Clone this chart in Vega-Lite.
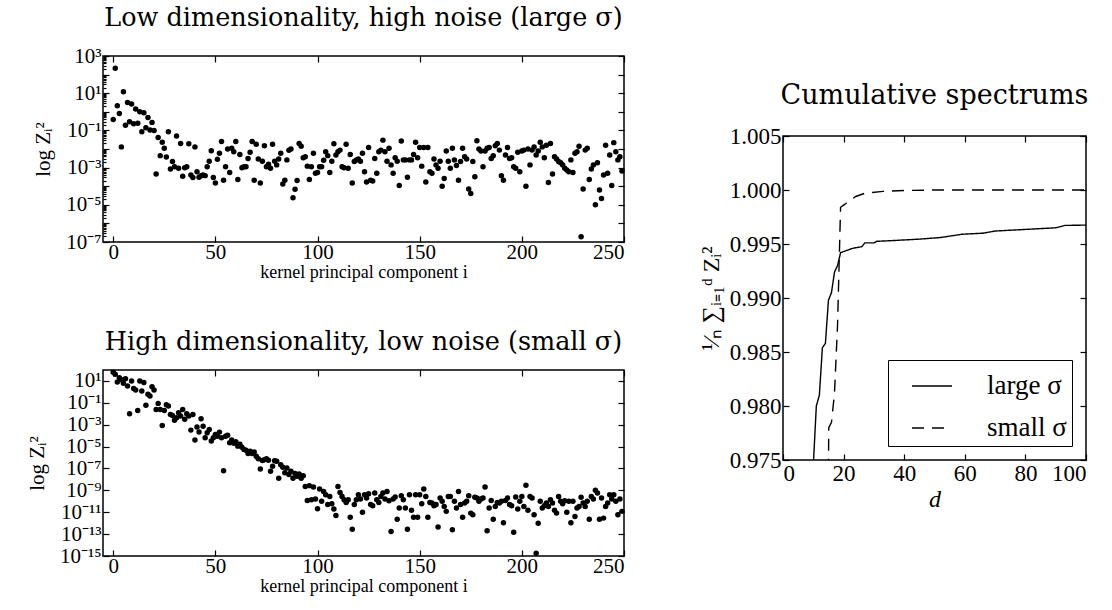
{
  "$schema": "https://vega.github.io/schema/vega-lite/v6.json",
  "background": "white",
  "padding": {"left": 25, "top": 4, "right": 5, "bottom": 5},
  "datasets": {
    "pts": [
{"i":0,"a":0.39,"b":63},{"i":1,"a":220,"b":40},{"i":2,"a":2.1,"b":7.9},{"i":3,"a":0.81,"b":20},{"i":4,"a":0.013,"b":12.6},
{"i":5,"a":12,"b":6.3},{"i":6,"a":0.19,"b":16},{"i":7,"a":3.2,"b":3.5},{"i":8,"a":0.29,"b":0.01},{"i":9,"a":2.6,"b":10},
{"i":10,"a":0.23,"b":2.0},{"i":11,"a":1.4,"b":1.5},{"i":12,"a":0.24,"b":0.02},{"i":13,"a":1.0,"b":10},{"i":14,"a":0.085,"b":1.2},
{"i":15,"a":0.89,"b":7.1},{"i":16,"a":0.14,"b":0.059},{"i":17,"a":0.5,"b":0.6},{"i":18,"a":0.105,"b":0.42},{"i":19,"a":0.27,"b":3.0},
{"i":20,"a":0.1,"b":1.5},{"i":21,"a":4.5e-4,"b":0.025},{"i":22,"a":0.041,"b":0.089},{"i":23,"a":4.4e-3,"b":0.025},{"i":24,"a":0.023,"b":8.5e-4},
{"i":25,"a":0.011,"b":0.02},{"i":26,"a":3.7e-3,"b":0.068},{"i":27,"a":0.085,"b":0.051},{"i":28,"a":8.3e-4,"b":8.7e-3},{"i":29,"a":2.1e-3,"b":7.1e-3},
{"i":30,"a":1.1e-3,"b":2.6e-3},{"i":31,"a":0.05,"b":4.4e-3},{"i":32,"a":9.1e-4,"b":0.0126},{"i":33,"a":0.02,"b":6.3e-3},{"i":34,"a":3.4e-4,"b":0.025},
{"i":35,"a":9.8e-4,"b":3.2e-3},{"i":36,"a":1.1e-3,"b":0.01},{"i":37,"a":0.019,"b":6.3e-3},{"i":38,"a":4e-4,"b":3.2e-4},{"i":39,"a":2.9e-4,"b":8.7e-3},
{"i":40,"a":0.013,"b":4e-5},{"i":41,"a":6e-4,"b":6.3e-4},{"i":42,"a":3e-4,"b":2.2e-4},{"i":43,"a":3.7e-4,"b":3.5e-3},{"i":44,"a":4e-4,"b":7.4e-4},
{"i":45,"a":3.7e-4,"b":6.3e-5},{"i":46,"a":1.1e-3,"b":1.8e-4},{"i":47,"a":2.2e-3,"b":3.7e-4},{"i":48,"a":8.1e-3,"b":3.2e-5},{"i":49,"a":2.9e-4,"b":6.3e-5},
{"i":50,"a":1.5e-4,"b":1.3e-4},{"i":51,"a":2.8e-3,"b":8.9e-5},{"i":52,"a":5.9e-3,"b":2.1e-4},{"i":53,"a":0.025,"b":6.3e-5},{"i":54,"a":2.1e-4,"b":6.3e-8},
{"i":55,"a":1.1e-3,"b":8.9e-5},{"i":56,"a":0.01,"b":1.1e-4},{"i":57,"a":5.5e-4,"b":2.2e-5},{"i":58,"a":0.011,"b":4e-5},{"i":59,"a":7.1e-3,"b":2e-5},
{"i":60,"a":0.025,"b":2.8e-5},{"i":61,"a":2.3e-4,"b":1.1e-5},{"i":62,"a":5.1e-3,"b":1.6e-5},{"i":63,"a":9.8e-4,"b":8.9e-6},{"i":64,"a":1.1e-3,"b":5.4e-6},
{"i":65,"a":1.1e-3,"b":4.7e-6},{"i":66,"a":3.1e-3,"b":2.3e-6},{"i":67,"a":6.6e-3,"b":3.8e-6},{"i":68,"a":0.025,"b":2.3e-6},{"i":69,"a":2.1e-4,"b":3.2e-6},
{"i":70,"a":0.018,"b":1.3e-6},{"i":71,"a":2.9e-3,"b":7.9e-7},{"i":72,"a":1.5e-4,"b":9.1e-8},{"i":73,"a":2.2e-3,"b":5.4e-7},{"i":74,"a":0.015,"b":6.3e-7},
{"i":75,"a":1.1e-3,"b":7.9e-7},{"i":76,"a":1.5e-3,"b":5.6e-7},{"i":77,"a":9.1e-4,"b":5.6e-8},{"i":78,"a":0.018,"b":1.6e-7},{"i":79,"a":2.2e-3,"b":5e-7},
{"i":80,"a":1.4e-3,"b":4.6e-7},{"i":81,"a":2.9e-3,"b":1.3e-8},{"i":82,"a":5.9e-3,"b":2.2e-7},{"i":83,"a":1.3e-4,"b":1.3e-7},{"i":84,"a":2.1e-4,"b":4e-8},
{"i":85,"a":2.6e-3,"b":1.1e-7},{"i":86,"a":8.5e-3,"b":2.8e-8},{"i":87,"a":0.01,"b":5.6e-8},{"i":88,"a":2.4e-5,"b":1.3e-8},{"i":89,"a":6.8e-5,"b":3.4e-8},
{"i":90,"a":2e-4,"b":1.9e-8},{"i":91,"a":0.02,"b":3.2e-8},{"i":92,"a":0.014,"b":1.3e-8},{"i":93,"a":3.4e-3,"b":2.2e-8},{"i":94,"a":3.8e-3,"b":2.3e-9},
{"i":95,"a":1.2e-3,"b":1.2e-10},{"i":96,"a":2.3e-4,"b":2.7e-9},{"i":97,"a":1.1e-3,"b":1.4e-10},{"i":98,"a":5.9e-3,"b":2e-9},{"i":99,"a":4.9e-4,"b":1.6e-10},
{"i":100,"a":5.4e-4,"b":2.1e-11},{"i":101,"a":1.1e-3,"b":1.3e-9},{"i":102,"a":1.1e-3,"b":1e-10},{"i":103,"a":2.5e-3,"b":7.9e-10},{"i":104,"a":7.1e-3,"b":4e-10},
{"i":105,"a":4.4e-3,"b":5e-11},{"i":106,"a":5.4e-4,"b":2.8e-10},{"i":107,"a":2.2e-3,"b":6e-11},{"i":108,"a":0.019,"b":2e-11},{"i":109,"a":4.7e-3,"b":5e-12},
{"i":110,"a":7.1e-3,"b":2.3e-9},{"i":111,"a":8.7e-3,"b":6.3e-10},{"i":112,"a":1.1e-3,"b":2.8e-10},{"i":113,"a":9.8e-4,"b":1.4e-10},{"i":114,"a":0.018,"b":7.9e-11},
{"i":115,"a":9.1e-4,"b":1.4e-10},{"i":116,"a":5.1e-3,"b":3.5e-12},{"i":117,"a":1.5e-4,"b":2.8e-13},{"i":118,"a":2.1e-3,"b":5e-11},{"i":119,"a":2.6e-3,"b":1.4e-10},
{"i":120,"a":2.9e-3,"b":4e-10},{"i":121,"a":2.2e-3,"b":1.6e-10},{"i":122,"a":5.9e-3,"b":1e-11},{"i":123,"a":6e-4,"b":4e-10},{"i":124,"a":1.7e-4,"b":2e-10},
{"i":125,"a":0.012,"b":5e-10},{"i":126,"a":2.1e-4,"b":5e-11},{"i":127,"a":1.9e-4,"b":4e-11},{"i":128,"a":3.1e-3,"b":5.6e-10},{"i":129,"a":4.9e-4,"b":1.4e-10},
{"i":130,"a":7.1e-3,"b":7.9e-11},{"i":131,"a":8.7e-3,"b":2.8e-10},{"i":132,"a":0.03,"b":5.6e-10},{"i":133,"a":7.1e-3,"b":1.6e-10},{"i":134,"a":2.2e-3,"b":7.9e-10},
{"i":135,"a":0.011,"b":1.1e-10},{"i":136,"a":1.4e-3,"b":1.7e-13},{"i":137,"a":4.9e-4,"b":1.6e-10},{"i":138,"a":3.4e-3,"b":2.5e-10},{"i":139,"a":2.2e-3,"b":2.3e-12},
{"i":140,"a":1.1e-4,"b":2.4e-11},{"i":141,"a":0.027,"b":3.2e-10},{"i":142,"a":2.6e-3,"b":1.4e-10},{"i":143,"a":2.6e-3,"b":2.4e-11},{"i":144,"a":3e-4,"b":2.8e-13},
{"i":145,"a":2.6e-3,"b":4e-10},{"i":146,"a":2.6e-3,"b":1.5e-11},{"i":147,"a":5.1e-3,"b":3.5e-12},{"i":148,"a":0.023,"b":4e-10},{"i":149,"a":3.4e-3,"b":3.5e-12},
{"i":150,"a":0.012,"b":4e-10},{"i":151,"a":1.2e-3,"b":6e-11},{"i":152,"a":0.012,"b":1.3e-9},{"i":153,"a":1.7e-4,"b":2.8e-10},{"i":154,"a":0.012,"b":3.5e-12},
{"i":155,"a":6e-4,"b":7.9e-11},{"i":156,"a":4.9e-4,"b":6.9e-11},{"i":157,"a":2.9e-3,"b":4e-11},{"i":158,"a":1.4e-3,"b":5e-11},{"i":159,"a":9.1e-4,"b":4.4e-13},
{"i":160,"a":2.2e-3,"b":2e-10},{"i":161,"a":1e-4,"b":1e-10},{"i":162,"a":2.6e-4,"b":3.4e-11},{"i":163,"a":7.8e-3,"b":1.2e-11},{"i":164,"a":2.2e-3,"b":2.8e-10},
{"i":165,"a":9.1e-4,"b":2.8e-10},{"i":166,"a":0.011,"b":2.5e-13},{"i":167,"a":2.6e-3,"b":1e-10},{"i":168,"a":1.3e-3,"b":2.4e-11},{"i":169,"a":2.1e-4,"b":7.9e-10},
{"i":170,"a":2.1e-3,"b":5e-11},{"i":171,"a":0.011,"b":3.5e-12},{"i":172,"a":3.8e-3,"b":6.9e-11},{"i":173,"a":2.9e-3,"b":1e-10},{"i":174,"a":7.1e-5,"b":3.2e-10},
{"i":175,"a":4.1e-5,"b":8.3e-12},{"i":176,"a":2.1e-3,"b":5.9e-12},{"i":177,"a":3.2e-4,"b":2.3e-10},{"i":178,"a":0.028,"b":2e-10},{"i":179,"a":0.01,"b":1e-10},
{"i":180,"a":7.8e-3,"b":1.6e-10},{"i":181,"a":1.1e-3,"b":2e-10},{"i":182,"a":7.8e-3,"b":2e-9},{"i":183,"a":0.011,"b":2e-13},{"i":184,"a":0.012,"b":2.4e-11},
{"i":185,"a":3.1e-3,"b":1.2e-10},{"i":186,"a":4.4e-3,"b":2.3e-12},{"i":187,"a":0.015,"b":3.4e-11},{"i":188,"a":0.02,"b":7.9e-11},{"i":189,"a":8.7e-3,"b":6.9e-11},
{"i":190,"a":3.7e-4,"b":1e-10},{"i":191,"a":2.1e-4,"b":1.1e-12},{"i":192,"a":4.7e-3,"b":1.2e-10},{"i":193,"a":0.012,"b":2e-10},{"i":194,"a":3.1e-3,"b":5e-11},
{"i":195,"a":3.4e-3,"b":4e-11},{"i":196,"a":1.1e-3,"b":1.5e-13},{"i":197,"a":9.1e-4,"b":2.5e-10},{"i":198,"a":6.6e-3,"b":2e-11},{"i":199,"a":6e-4,"b":1e-10},
{"i":200,"a":7.8e-3,"b":2.8e-10},{"i":201,"a":8.7e-3,"b":3.4e-11},{"i":202,"a":1e-4,"b":2.9e-9},{"i":203,"a":0.01,"b":1.5e-11},{"i":204,"a":1.4e-3,"b":2.8e-10},
{"i":205,"a":8.7e-3,"b":2e-10},{"i":206,"a":0.013,"b":5.9e-12},{"i":207,"a":4.7e-3,"b":1.8e-15},{"i":208,"a":7.8e-3,"b":1e-12},{"i":209,"a":0.023,"b":1e-10},
{"i":210,"a":0.013,"b":2.4e-11},{"i":211,"a":3.4e-3,"b":4e-11},{"i":212,"a":0.016,"b":6.9e-11},{"i":213,"a":1.6e-4,"b":3.4e-11},{"i":214,"a":0.02,"b":1.4e-10},
{"i":215,"a":4.5e-4,"b":6.9e-11},{"i":216,"a":3.8e-3,"b":1.5e-11},{"i":217,"a":2.9e-3,"b":8.3e-12},{"i":218,"a":2.1e-3,"b":2.8e-10},{"i":219,"a":1.8e-3,"b":1e-10},
{"i":220,"a":1.4e-3,"b":6e-11},{"i":221,"a":9.1e-4,"b":1.1e-10},{"i":222,"a":7.4e-4,"b":1e-11},{"i":223,"a":6e-4,"b":1e-10},{"i":224,"a":2.6e-3,"b":1.1e-12},
{"i":225,"a":5.5e-4,"b":1e-10},{"i":226,"a":5.9e-3,"b":4.1e-12},{"i":227,"a":7.1e-3,"b":2.4e-11},{"i":228,"a":0.014,"b":3.4e-11},{"i":229,"a":1.9e-7,"b":2.3e-10},
{"i":230,"a":7.1e-5,"b":6.9e-11},{"i":231,"a":8.7e-3,"b":3.4e-11},{"i":232,"a":0.011,"b":1e-10},{"i":233,"a":2.3e-4,"b":2.3e-12},{"i":234,"a":8.3e-4,"b":2.8e-10},
{"i":235,"a":1.4e-3,"b":1.6e-10},{"i":236,"a":1e-5,"b":1e-9},{"i":237,"a":1.8e-3,"b":5.6e-10},{"i":238,"a":6.3e-5,"b":2.3e-12},{"i":239,"a":2.2e-5,"b":2e-10},
{"i":240,"a":4e-4,"b":2.9e-12},{"i":241,"a":0.016,"b":3.4e-11},{"i":242,"a":4.9e-4,"b":6.9e-11},{"i":243,"a":4.7e-3,"b":4e-10},{"i":244,"a":1.1e-4,"b":1.6e-10},
{"i":245,"a":0.022,"b":4e-10},{"i":246,"a":7.1e-3,"b":1e-10},{"i":247,"a":2.6e-3,"b":5.9e-12},{"i":248,"a":3.8e-3,"b":1.6e-10},{"i":249,"a":6.6e-4,"b":1.2e-11}
    ],
    "cum": [
{"d":10,"v":0.9745,"s":"large σ"},{"d":11,"v":0.98,"s":"large σ"},{"d":12,"v":0.981,"s":"large σ"},{"d":13,"v":0.9854,"s":"large σ"},{"d":14,"v":0.9858,"s":"large σ"},
{"d":15,"v":0.9898,"s":"large σ"},{"d":16,"v":0.9905,"s":"large σ"},{"d":17,"v":0.9924,"s":"large σ"},{"d":18,"v":0.993,"s":"large σ"},{"d":19,"v":0.9942,"s":"large σ"},
{"d":20,"v":0.9943,"s":"large σ"},{"d":23,"v":0.9946,"s":"large σ"},{"d":26,"v":0.99475,"s":"large σ"},{"d":27,"v":0.9951,"s":"large σ"},{"d":30,"v":0.9951,"s":"large σ"},
{"d":31,"v":0.99525,"s":"large σ"},{"d":35,"v":0.9953,"s":"large σ"},{"d":45,"v":0.99545,"s":"large σ"},{"d":52,"v":0.9956,"s":"large σ"},{"d":59,"v":0.9959,"s":"large σ"},
{"d":66,"v":0.996,"s":"large σ"},{"d":70,"v":0.9962,"s":"large σ"},{"d":80,"v":0.99635,"s":"large σ"},{"d":90,"v":0.9965,"s":"large σ"},{"d":93,"v":0.99672,"s":"large σ"},
{"d":100,"v":0.99675,"s":"large σ"},
{"d":15,"v":0.974,"s":"small σ"},{"d":15.1,"v":0.978,"s":"small σ"},{"d":16,"v":0.9785,"s":"small σ"},{"d":17,"v":0.9812,"s":"small σ"},{"d":18,"v":0.9875,"s":"small σ"},
{"d":19,"v":0.9984,"s":"small σ"},{"d":20,"v":0.9986,"s":"small σ"},{"d":21,"v":0.9988,"s":"small σ"},{"d":24,"v":0.9994,"s":"small σ"},{"d":27,"v":0.9997,"s":"small σ"},
{"d":33,"v":0.99987,"s":"small σ"},{"d":40,"v":0.99995,"s":"small σ"},{"d":50,"v":1.0,"s":"small σ"},{"d":100,"v":1.0,"s":"small σ"}
    ],
    "blank": [{"k": 0}]
  },
  "spacing": 72,
  "resolve": {"legend": {"strokeDash": "independent"}},
  "hconcat": [
    {
      "spacing": 47,
      "vconcat": [
        {
          "width": 521, "height": 186,
          "title": {"text": "Low dimensionality, high noise (large σ)", "offset": 14},
          "data": {"name": "pts"},
          "layer": [
            {
              "mark": {"type": "circle", "size": 30, "color": "black", "opacity": 1},
              "encoding": {
                "x": {"field": "i", "type": "quantitative", "scale": {"domain": [-5, 250], "nice": false, "zero": false},
                      "axis": {"orient": "bottom", "values": [0, 50, 100, 150, 200, 250], "title": "kernel principal component i", "titleFontSize": 18, "titlePadding": 1, "labelPadding": 5}},
                "y": {"field": "a", "type": "quantitative", "scale": {"type": "log", "domain": [1e-7, 1000], "nice": false},
                      "axis": {"orient": "left", "title": "log Zᵢ²", "titleFontSize": 21, "titlePadding": 12,
                               "values": [1e-7,2e-7,3e-7,4e-7,5e-7,6e-7,7e-7,8e-7,9e-7,1e-6,2e-6,3e-6,4e-6,5e-6,6e-6,7e-6,8e-6,9e-6,1e-5,2e-5,3e-5,4e-5,5e-5,6e-5,7e-5,8e-5,9e-5,1e-4,2e-4,3e-4,4e-4,5e-4,6e-4,7e-4,8e-4,9e-4,0.001,0.002,0.003,0.004,0.005,0.006,0.007,0.008,0.009,0.01,0.02,0.03,0.04,0.05,0.06,0.07,0.08,0.09,0.1,0.2,0.3,0.4,0.5,0.6,0.7,0.8,0.9,1,2,3,4,5,6,7,8,9,10,20,30,40,50,60,70,80,90,100,200,300,400,500,600,700,800,900,1000],
                               "tickSize": {"condition": {"test": "abs(log(datum.value)/LN10 - round(log(datum.value)/LN10)) < 0.01", "value": -6}, "value": -3},
                               "labelExpr": "abs(log(datum.value)/LN10 - round(log(datum.value)/LN10)) < 0.01 ? ['10⁻¹⁵','10⁻¹⁴','10⁻¹³','10⁻¹²','10⁻¹¹','10⁻¹⁰','10⁻⁹','10⁻⁸','10⁻⁷','10⁻⁶','10⁻⁵','10⁻⁴','10⁻³','10⁻²','10⁻¹','10⁰','10¹','10²','10³'][round(log(datum.value)/LN10)+15] : ''"}}
              }
            },
            {
              "mark": {"type": "circle", "opacity": 0},
              "encoding": {
                "x": {"field": "i", "type": "quantitative", "axis": {"orient": "top", "labels": false, "title": null, "values": [0, 50, 100, 150, 200, 250]}},
                "y": {"field": "a", "type": "quantitative", "axis": {"orient": "right", "labels": false, "title": null, "values": [1e-7,1e-6,1e-5,1e-4,0.001,0.01,0.1,1,10,100,1000]}}
              }
            }
          ],
          "resolve": {"axis": {"x": "independent", "y": "independent"}}
        },
        {
          "width": 521, "height": 186,
          "title": {"text": "High dimensionality, low noise (small σ)", "offset": 14},
          "data": {"name": "pts"},
          "layer": [
            {
              "mark": {"type": "circle", "size": 30, "color": "black", "opacity": 1},
              "encoding": {
                "x": {"field": "i", "type": "quantitative", "scale": {"domain": [-5, 250], "nice": false, "zero": false},
                      "axis": {"orient": "bottom", "values": [0, 50, 100, 150, 200, 250], "title": "kernel principal component i", "titleFontSize": 18, "titlePadding": 1, "labelPadding": 5}},
                "y": {"field": "b", "type": "quantitative", "scale": {"type": "log", "domain": [1e-15, 100], "nice": false},
                      "axis": {"orient": "left", "title": "log Zᵢ²", "titleFontSize": 21, "titlePadding": 12,
                               "values": [1e-15,1e-13,1e-11,1e-9,1e-7,1e-5,0.001,0.1,10],
                               "labelExpr": "['10⁻¹⁵','10⁻¹⁴','10⁻¹³','10⁻¹²','10⁻¹¹','10⁻¹⁰','10⁻⁹','10⁻⁸','10⁻⁷','10⁻⁶','10⁻⁵','10⁻⁴','10⁻³','10⁻²','10⁻¹','10⁰','10¹','10²','10³'][round(log(datum.value)/LN10)+15]"}}
              }
            },
            {
              "mark": {"type": "circle", "opacity": 0},
              "encoding": {
                "x": {"field": "i", "type": "quantitative", "axis": {"orient": "top", "labels": false, "title": null, "values": [0, 50, 100, 150, 200, 250]}},
                "y": {"field": "b", "type": "quantitative", "axis": {"orient": "right", "labels": false, "title": null, "values": [1e-15,1e-13,1e-11,1e-9,1e-7,1e-5,0.001,0.1,10]}}
              }
            }
          ],
          "resolve": {"axis": {"x": "independent", "y": "independent"}}
        }
      ]
    },
    {
      "spacing": 21,
      "resolve": {"legend": {"strokeDash": "independent"}},
      "vconcat": [
        {
          "width": 1, "height": 1,
          "view": {"stroke": null},
          "data": {"name": "blank"},
          "mark": {"type": "point", "opacity": 0},
          "encoding": {}
        },
        {
          "width": 303, "height": 324,
          "title": {"text": "Cumulative spectrums", "fontSize": 27, "offset": 15},
          "data": {"name": "cum"},
          "layer": [
            {
              "mark": {"type": "line", "color": "black", "strokeWidth": 1.4, "clip": true},
              "encoding": {
                "x": {"field": "d", "type": "quantitative", "scale": {"domain": [0, 100], "nice": false},
                      "axis": {"orient": "bottom", "values": [0, 20, 40, 60, 80, 100], "title": "d", "titleFontStyle": "italic", "titleFontSize": 24, "titlePadding": 2, "labelFontSize": 23}},
                "y": {"field": "v", "type": "quantitative", "scale": {"domain": [0.975, 1.005], "nice": false, "zero": false},
                      "axis": {"orient": "left", "values": [0.975, 0.98, 0.985, 0.99, 0.995, 1.0, 1.005], "format": ".3f", "title": "¹⁄ₙ ∑ᵢ₌₁ᵈ Zᵢ²", "titleFontSize": 24, "labelFontSize": 23, "titlePadding": 6}},
                "strokeDash": {"field": "s", "type": "nominal",
                      "scale": {"domain": ["large σ", "small σ"], "range": [[1, 0], [12, 8]]},
                      "legend": {"title": null, "orient": "bottom-right", "offset": 14, "strokeColor": "black", "fillColor": "white",
                                 "padding": 5, "symbolOffset": 18, "labelFontSize": 27, "labelFont": "Liberation Serif", "labelColor": "black",
                                 "symbolType": "stroke", "symbolSize": 1600, "symbolStrokeWidth": 1.5, "symbolStrokeColor": "black",
                                 "labelOffset": 34, "rowPadding": 8, "cornerRadius": 0}}
              }
            },
            {
              "mark": {"type": "circle", "opacity": 0},
              "encoding": {
                "x": {"field": "d", "type": "quantitative", "axis": {"orient": "top", "labels": false, "title": null, "values": [0, 20, 40, 60, 80, 100]}},
                "y": {"field": "v", "type": "quantitative", "axis": {"orient": "right", "labels": false, "title": null, "values": [0.975, 0.98, 0.985, 0.99, 0.995, 1.0, 1.005]}}
              }
            }
          ],
          "resolve": {"axis": {"x": "independent", "y": "independent"}}
        }
      ]
    }
  ],
  "config": {
    "font": "Liberation Serif",
    "view": {"stroke": "black", "strokeWidth": 1.5},
    "axis": {"domain": false, "grid": false, "tickColor": "black", "tickSize": -6, "tickWidth": 1.2,
             "labelColor": "black", "labelFontSize": 21, "labelPadding": 8, "labelFont": "Liberation Serif",
             "titleColor": "black", "titleFontWeight": "normal", "titleFont": "Liberation Serif"},
    "title": {"font": "DejaVu Serif", "fontWeight": "normal", "fontSize": 25.5, "color": "black", "anchor": "middle"}
  }
}
